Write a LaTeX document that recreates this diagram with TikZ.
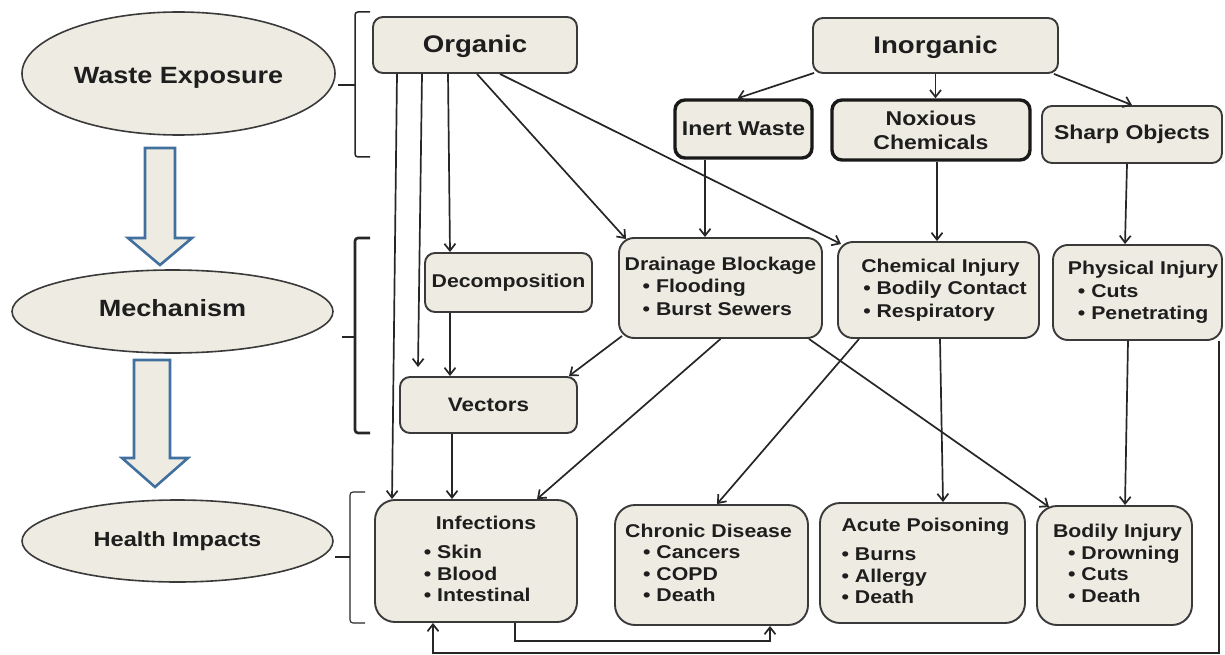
\documentclass[tikz,border=0pt]{standalone}
\usepackage{fontspec}
\setmainfont{Liberation Sans}[FakeStretch=1.15]
\usetikzlibrary{shapes.geometric,arrows.meta,calc}
\definecolor{bxfill}{HTML}{EEECE2}
\definecolor{bxline}{HTML}{3A3A3A}
\definecolor{txt}{HTML}{1E1E1E}
\definecolor{lnc}{HTML}{262626}
\definecolor{blu}{HTML}{41709E}
\newcommand\fsz[2]{\fontsize{#1}{#2}\selectfont}
\begin{document}
\begin{tikzpicture}[x=1pt,y=-1pt,
  bx/.style={draw=bxline, fill=bxfill, line width=1.9pt, rounded corners=10pt, inner sep=0pt, text=txt},
  thk/.style={line width=3.4pt, draw=black!90},
  oval/.style={ellipse, draw=bxline, fill=bxfill, line width=1.6pt, inner sep=0pt, text=txt},
  con/.style={line width=1.7pt, draw=lnc, -{Straight Barb[length=7pt,width=11pt]}},
  brk/.style={line width=1.5pt, draw=lnc, rounded corners=3pt},
  blk/.style={draw=blu, fill=bxfill, line width=2.6pt, line join=miter},
  big/.style={font=\bfseries\fsz{24}{28}},
  mid/.style={font=\bfseries\fsz{20}{24}},
  lst/.style={font=\bfseries\fsz{18.5}{22.5}},
  hl/.style={font=\bfseries\fsz{18.5}{21.5}}
]
\useasboundingbox (0,0) rectangle (1225,655);

% left column
\node[oval, minimum width=313pt, minimum height=123pt, font=\bfseries\fsz{23.5}{28}, text height=20pt, text depth=0pt] (we) at (178.5,73.5) {Waste Exposure};
\node[oval, minimum width=321pt, minimum height=83pt, font=\bfseries\fsz{23.5}{28}, text height=10pt, text depth=0pt] (mech) at (172.5,311.5) {Mechanism};
\node[oval, minimum width=311pt, minimum height=82pt, font=\bfseries\fsz{20.5}{24}] (hi) at (177.5,541) {Health Impacts};

\draw[blk] (145,148) -- (175,148) -- (175,238) -- (192,238) -- (160,265) -- (128,238) -- (145,238) -- cycle;
\draw[blk] (134,360) -- (170,360) -- (170,458) -- (188,458) -- (155,487) -- (122,458) -- (134,458) -- cycle;

% brackets
\draw[brk] (370,12) -- (355,12) -- (355,157) -- (370,157);
\draw[brk] (355,85) -- (338,85);
\draw[brk, line width=2.6pt] (370,238) -- (355,238) -- (355,433) -- (370,433);
\draw[brk, line width=2.6pt] (355,337) -- (342,337);
\draw[brk, line width=1.1pt] (365,492) -- (350,492) -- (350,623) -- (365,623);
\draw[brk, line width=1.1pt] (350,557) -- (335,557);

% top row
\node[bx, big, minimum width=204pt, minimum height=56pt, text height=16pt, text depth=0pt] (org) at (475,45) {Organic};
\node[bx, big, minimum width=245pt, minimum height=55pt, text height=16pt, text depth=0pt] (inorg) at (935.5,45.5) {Inorganic};
\node[bx, thk, mid, minimum width=137pt, minimum height=58pt] (inert) at (743.5,129) {Inert Waste};
\node[bx, thk, mid, minimum width=198pt, minimum height=60pt, align=center] (nox) at (931,130) {Noxious\\Chemicals};
\node[bx, mid, minimum width=180pt, minimum height=57pt] (sharp) at (1132,134.5) {Sharp Objects};

% mechanism row
\node[bx, font=\bfseries\fsz{18.5}{22}, minimum width=167pt, minimum height=59pt] (decomp) at (508.5,282.5) {Decomposition};
\node[bx, font=\bfseries\fsz{19.5}{22}, minimum width=177pt, minimum height=56pt] (vec) at (488.5,405) {Vectors};
\node[bx, lst, rounded corners=15pt, minimum width=203pt, minimum height=100pt] (drain) at (720.5,288)
  {\begin{tabular}{@{}l@{}}Drainage Blockage\\\hspace*{18pt}• Flooding\\\hspace*{18pt}• Burst Sewers\end{tabular}};
\node[bx, lst, rounded corners=15pt, minimum width=201pt, minimum height=96pt] (chem) at (938.5,290)
  {\hspace*{11pt}\begin{tabular}{@{}l@{}}Chemical Injury\\\hspace*{2pt}• Bodily Contact\\\hspace*{2pt}• Respiratory\end{tabular}};
\node[bx, lst, rounded corners=15pt, minimum width=169pt, minimum height=95pt] (phys) at (1137.5,292.5)
  {\hspace*{11pt}\begin{tabular}{@{}l@{}}Physical Injury\\\hspace*{10pt}• Cuts\\\hspace*{10pt}• Penetrating\end{tabular}};

% health impacts row
\node[bx, hl, rounded corners=20pt, minimum width=202pt, minimum height=122pt] (inf) at (476,561)
  {\hspace*{8pt}\begin{tabular}{@{}l@{}}\hspace*{12pt}Infections\\[8pt]• Skin\\• Blood\\• Intestinal\end{tabular}};
\node[bx, hl, rounded corners=20pt, minimum width=193pt, minimum height=120pt] (chron) at (711.5,565)
  {\begin{tabular}{@{}l@{}}Chronic Disease\\\hspace*{18pt}• Cancers\\\hspace*{18pt}• COPD\\\hspace*{18pt}• Death\end{tabular}\hspace*{6pt}};
\node[bx, hl, rounded corners=20pt, minimum width=205pt, minimum height=120pt] (acute) at (922.5,563)
  {\hspace*{6pt}\begin{tabular}{@{}l@{}}Acute Poisoning\\[8pt]• Burns\\• Allergy\\• Death\end{tabular}};
\node[bx, hl, rounded corners=20pt, minimum width=155pt, minimum height=119pt] (bod) at (1114.5,565.5)
  {\hspace*{6pt}\begin{tabular}{@{}l@{}}Bodily Injury\\\hspace*{15pt}• Drowning\\\hspace*{15pt}• Cuts\\\hspace*{15pt}• Death\end{tabular}};

% connectors from Organic
\coordinate (vfree) at (418,367);
\draw[con] ($(org.south)+(-78,0)$) -- ($(inf.north)+(-84,0)$);
\draw[con] ($(org.south)+(-53,0)$) -- (vfree);
\draw[con] ($(org.south)+(-27,0)$) -- ($(decomp.north)+(-58.5,0)$);
\draw[con] ($(org.south)+(2,0)$) -- ($(drain.north west)+(8,2)$);
\draw[con] ($(org.south)+(25,0)$) -- ($(chem.north west)+(4,3)$);

% connectors from Inorganic
\draw[con] ($(inorg.south west)+(2,-1)$) -- ($(inert.north)+(-6,0)$);
\draw[con] (inorg.south) -- (inorg.south |- nox.north);
\draw[con] ($(inorg.south east)+(-5,0)$) -- (sharp.north);

\draw[con] ($(inert.south)+(-38.5,0)$) -- ($(drain.north)+(-15.5,0)$);
\draw[con] ($(nox.south)+(6,0)$) -- ($(chem.north)+(-1.5,0)$);
\draw[con] ($(sharp.south)+(-5,0)$) -- ($(phys.north)+(-12.5,0)$);

% mechanism to impacts
\draw[con] ($(decomp.south)+(-58.5,0)$) -- ($(vec.north)+(-38.5,0)$);
\draw[con] ($(drain.south west)+(4,-3)$) -- ($(vec.north east)+(-9,0)$);
\draw[con] (drain.south) -- ($(inf.north)+(61,0)$);
\draw[con] ($(drain.south east)+(-14,0)$) -- ($(bod.north west)+(13,2)$);
\draw[con] ($(chem.south west)+(22,0)$) -- ($(chron.north)+(5.5,0)$);
\draw[con] ($(chem.south)+(1.5,0)$) -- ($(acute.north)+(20.5,0)$);
\draw[con] ($(phys.south)+(-9.5,0)$) -- ($(bod.north)+(10.5,0)$);
\draw[con] ($(vec.south)+(-36.5,0)$) -- ($(inf.north)+(-24,0)$);

% bottom loops
\draw[con] ($(phys.south east)+(-4,0)$) -- ++(0,312) -| ($(inf.south)+(-43,0)$);
\draw[con] ($(inf.south)+(39,0)$) -- ++(0,18) -| ($(chron.south)+(58.5,0)$);
\end{tikzpicture}
\end{document}
